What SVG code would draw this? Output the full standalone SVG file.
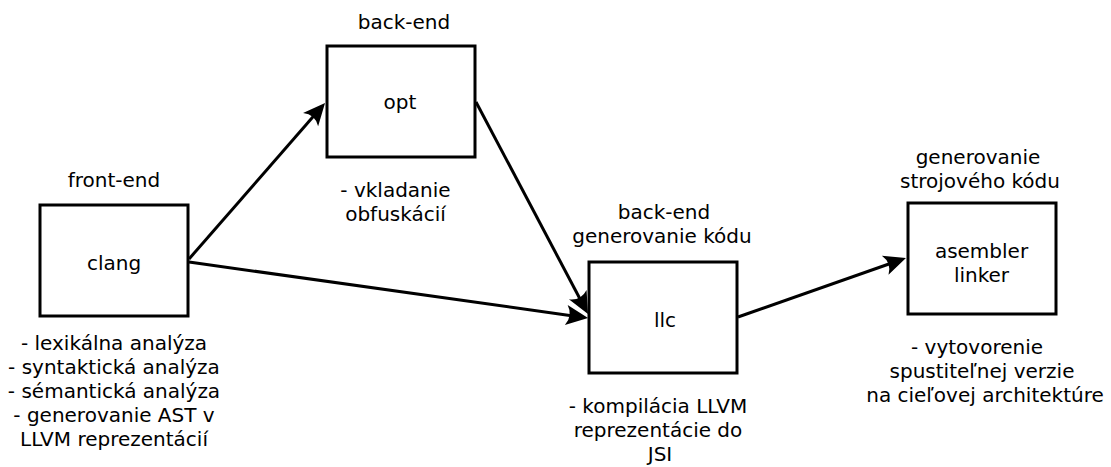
<svg xmlns="http://www.w3.org/2000/svg" width="1111" height="467" viewBox="0 0 1111 467">
<style>
.box{fill:#fff;stroke:#000;stroke-width:3}
.t{font-family:"DejaVu Sans",sans-serif;font-size:20px;fill:#000;text-anchor:middle}
.c{fill:none;stroke:#000;stroke-width:3}
</style>
<defs>
<marker id="arr" markerUnits="userSpaceOnUse" orient="auto" markerWidth="40" markerHeight="40" viewBox="-20 -20 40 40" refX="0" refY="0" overflow="visible">
<path d="M6,0 L-16,-10 Q-9,0 -16,10 Z" fill="#000"/>
</marker>
</defs>
<rect width="1111" height="467" fill="#fff"/>
<g id="connectors">
<path class="c" d="M189,259 L321.1,107.5" marker-end="url(#arr)"/>
<path class="c" d="M189,262 L582.1,317.2" marker-end="url(#arr)"/>
<path class="c" d="M476,102 L585.2,308.7" marker-end="url(#arr)"/>
<path class="c" d="M738,317 L900.3,260" marker-end="url(#arr)"/>
</g>
<g id="clang">
<text class="t" x="114" y="187">front-end</text>
<rect class="box" x="40" y="205" width="148" height="111"/>
<text class="t" x="114" y="270">clang</text>
<text class="t" x="114" y="350">- lexikálna analýza</text>
<text class="t" x="114" y="374">- syntaktická analýza</text>
<text class="t" x="114" y="398">- sémantická analýza</text>
<text class="t" x="114" y="422">- generovanie AST v</text>
<text class="t" x="114" y="446">LLVM reprezentácií</text>
</g>
<g id="opt">
<text class="t" x="404" y="29">back-end</text>
<rect class="box" x="327" y="46" width="148" height="111"/>
<text class="t" x="400" y="109">opt</text>
<text class="t" x="395.5" y="197">- vkladanie</text>
<text class="t" x="395.5" y="221">obfuskácií</text>
</g>
<g id="llc">
<text class="t" x="664" y="219">back-end</text>
<text class="t" x="662" y="243">generovanie kódu</text>
<rect class="box" x="589" y="262" width="148" height="111"/>
<text class="t" x="665" y="327">llc</text>
<text class="t" x="658" y="413">- kompilácia LLVM</text>
<text class="t" x="658" y="437">reprezentácie do</text>
<text class="t" x="660" y="461">JSI</text>
</g>
<g id="asembler">
<text class="t" x="978" y="164">generovanie</text>
<text class="t" x="980" y="188">strojového kódu</text>
<rect class="box" x="908" y="203" width="148" height="111"/>
<text class="t" x="981.5" y="258">asembler</text>
<text class="t" x="981.5" y="282">linker</text>
<text class="t" x="977" y="354">- vytovorenie</text>
<text class="t" x="982" y="378">spustiteľnej verzie</text>
<text class="t" x="985" y="402">na cieľovej architektúre</text>
</g>
</svg>
